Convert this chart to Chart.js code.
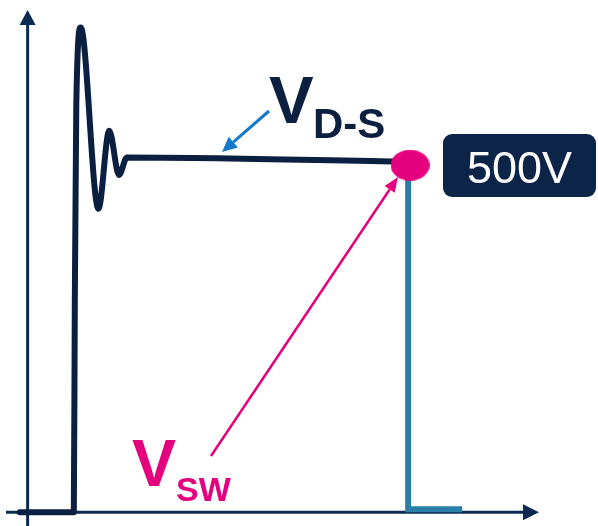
<!DOCTYPE html>
<html>
<head>
<meta charset="utf-8">
<title>Turn-off waveform</title>
<script src="https://cdn.jsdelivr.net/npm/chart.js@4.4.1/dist/chart.umd.min.js"></script>
<style>
  html, body { margin: 0; padding: 0; background: #ffffff; }
  #wave { display: block; }
</style>
</head>
<body>
<canvas id="wave" width="598" height="526"></canvas>
<script>
// Drain-source voltage at turn-on: overshoot, ringing, then the 500 V plateau.
var traceT = [15, 70, 71, 72.5, 77, 95, 106, 116, 124, 411];
var traceV = [0, 0, 300, 580, 690, 432, 543, 480, 505, 499];

// Switch-node voltage dropping back to zero
var swT = [410, 410, 465];
var swV = [480, 4, 4];

// Operating point marker
var markT = [412];
var markV = [494];

var TIME_MIN = 0, TIME_MAX = 598;
var VOLT_MIN = -12.6, VOLT_MAX = 722;

var NAVY = "#0b1f40";
var TEAL = "#2a7fa8";
var PINK = "#e5007e";
var BLUE = "#1579c8";
var FONT = "'Liberation Sans', Arial, sans-serif";

function _pts(ts, vs) {
  return ts.map(function(t, i) { return { x: t, y: vs[i] }; });
}

// Elliptical marker used as a point style
function _ellipse(w, h, color) {
  var c = document.createElement("canvas");
  c.width = w; c.height = h;
  var g = c.getContext("2d");
  g.fillStyle = color;
  g.beginPath();
  g.ellipse(w / 2, h / 2, w / 2, h / 2, 0, 0, Math.PI * 2);
  g.fill();
  return c;
}

function _arrow(ctx, x1, y1, x2, y2, color, width, headLen, headW) {
  var ang = Math.atan2(y2 - y1, x2 - x1);
  var bx = x2 - headLen * Math.cos(ang);
  var by = y2 - headLen * Math.sin(ang);
  ctx.save();
  ctx.strokeStyle = color;
  ctx.fillStyle = color;
  ctx.lineWidth = width;
  ctx.beginPath();
  ctx.moveTo(x1, y1);
  ctx.lineTo(bx, by);
  ctx.stroke();
  ctx.beginPath();
  ctx.moveTo(x2, y2);
  ctx.lineTo(bx + headW * Math.sin(ang), by - headW * Math.cos(ang));
  ctx.lineTo(bx - headW * Math.sin(ang), by + headW * Math.cos(ang));
  ctx.closePath();
  ctx.fill();
  ctx.restore();
}

var axesPlugin = {
  id: "axesArrows",
  beforeDatasetsDraw: function(chart) {
    var ctx = chart.ctx;
    var x0 = chart.scales.x.getPixelForValue(23);
    var y0 = chart.scales.y.getPixelForValue(0);
    _arrow(ctx, x0, 526, x0, 10, "#0b2a52", 3, 15, 8);
    _arrow(ctx, 6, y0, 539, y0, "#0b2a52", 3, 16, 8);
  }
};

var labelsPlugin = {
  id: "waveLabels",
  afterDatasetsDraw: function(chart) {
    var ctx = chart.ctx;
    ctx.save();
    ctx.textBaseline = "alphabetic";

    // V D-S label and pointer
    ctx.fillStyle = NAVY;
    ctx.font = "bold 67px " + FONT;
    ctx.fillText("V", 269, 123);
    ctx.font = "bold 42px " + FONT;
    ctx.fillText("D-S", 313, 138);
    _arrow(ctx, 269, 111, 222, 152, BLUE, 3, 15, 7);

    // V SW label and pointer
    ctx.fillStyle = PINK;
    ctx.font = "bold 66px " + FONT;
    ctx.fillText("V", 132, 486);
    ctx.font = "bold 34px " + FONT;
    ctx.fillText("SW", 176, 501);
    _arrow(ctx, 211, 456, 398, 177, PINK, 2.5, 15, 6);

    // 500V value box
    ctx.fillStyle = "#0b2447";
    ctx.beginPath();
    ctx.roundRect(443, 134, 153, 63, 9);
    ctx.fill();
    ctx.fillStyle = "#ffffff";
    ctx.font = "45px " + FONT;
    ctx.fillText("500V", 467, 183);
    ctx.restore();
  }
};

new Chart(document.getElementById("wave"), {
  type: "line",
  data: {
    datasets: [
      {
        data: _pts(markT, markV),
        showLine: false,
        pointStyle: _ellipse(39, 31, PINK),
        order: 0,
      },
      {
        data: _pts(traceT, traceV),
        borderColor: NAVY,
        borderWidth: 6,
        cubicInterpolationMode: "monotone",
        pointRadius: 0,
        borderCapStyle: "round",
        borderJoinStyle: "round",
        order: 1,
      },
      {
        data: _pts(swT, swV),
        borderColor: TEAL,
        borderWidth: 6,
        tension: 0,
        pointRadius: 0,
        order: 2,
      },
    ],
  },
  options: {
    responsive: false,
    devicePixelRatio: 1,
    animation: false,
    layout: { padding: 0 },
    plugins: { legend: { display: false }, tooltip: { enabled: false } },
    scales: {
      x: { type: "linear", min: TIME_MIN, max: TIME_MAX, display: false },
      y: { type: "linear", min: VOLT_MIN, max: VOLT_MAX, display: false },
    },
  },
  plugins: [axesPlugin, labelsPlugin],
});
</script>
</body>
</html>
